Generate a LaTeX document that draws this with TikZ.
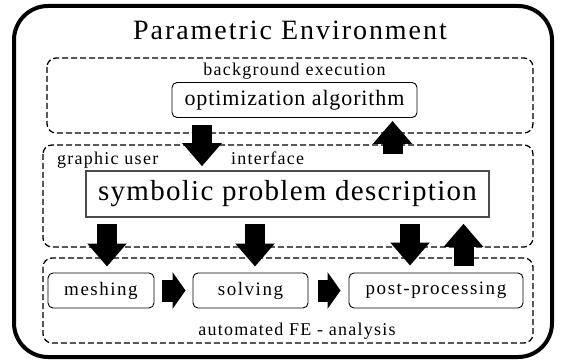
\documentclass[tikz,border=0pt]{standalone}
\usepackage{fontspec}
\setmainfont{Liberation Serif}
\usetikzlibrary{arrows.meta}

\begin{document}
\begin{tikzpicture}[x=1pt,y=-1pt,
  stage/.style={draw,rounded corners=5pt,line width=0.9pt,minimum height=35pt,inner sep=0pt,
    font=\fontsize{19}{22}\selectfont\addfontfeature{LetterSpace=8}},
  layer/.style={draw,dash pattern=on 6pt off 3pt,line width=1.3pt,rounded corners=9pt},
  tag/.style={inner sep=0pt,font=\fontsize{18}{21}\selectfont\addfontfeature{LetterSpace=7}},
  down/.style={line width=20pt,-{Triangle[length=23pt,width=38pt]}},
  fwd/.style={line width=22pt,-{Triangle[length=13pt,width=36pt]}}]
\useasboundingbox (0,0) rectangle (564,363);
%\draw[step=10pt,gray,very thin] (0,0) grid (564,363); %background grid

\draw[line width=4pt,rounded corners=34pt] (14,6) rectangle (552,357);
\node[anchor=base,inner sep=0pt,font=\fontsize{28}{32}\selectfont\addfontfeature{LetterSpace=7}] (title) at (290,40) {Parametric Environment};

% the three layers
\draw[layer] (47,58) rectangle (533,133);
\draw[layer] (43,145) rectangle (533,247);
\draw[layer] (43,258) rectangle (533,343);

\node[tag,anchor=base] (bg) at (294.5,76) {background execution};
\node[tag,anchor=base west] (gui) at (57,165) {graphic user};
\node[tag,anchor=base west] (gui2) at (231,165) {interface};
\node[tag,anchor=base] (fe) at (297,335) {automated FE - analysis};

\node[stage,minimum width=245pt,font=\fontsize{22}{26}\selectfont\addfontfeature{LetterSpace=4}] (opt) at (294.5,100) {optimization algorithm};
\node[draw=black!70,line width=1.5pt,minimum width=403pt,minimum height=46pt,inner sep=0pt,
  font=\fontsize{29}{33}\selectfont\addfontfeature{LetterSpace=4.5}] (sym) at (287.5,194) {symbolic problem description};

\node[stage,minimum width=106pt] (mesh) at (101,290.5) {meshing};
\node[stage,minimum width=115pt] (solve) at (250.5,290.5) {solving};
\node[stage,minimum width=174pt] (post) at (436,290.5) {post-processing};

% block arrows
\draw[down,shorten <=7pt,shorten >=4pt] (opt.south -| 202,0) -- (sym.north -| 202,0);
\draw[down,shorten <=16pt,shorten >=3pt] (sym.north -| 392.5,0) -- (opt.south -| 392.5,0);
\draw[down,shorten <=6pt,shorten >=6pt] (sym.south -| 107,0) -- (mesh.north -| 107,0);
\draw[down,shorten <=6pt,shorten >=6pt] (sym.south -| 255,0) -- (solve.north -| 255,0);
\draw[down,shorten <=6pt,shorten >=7pt] (sym.south -| 410,0) -- (post.north -| 410,0);
\draw[down,shorten <=7pt,shorten >=6pt] (post.north -| 463.5,0) -- (sym.south -| 463.5,0);
\draw[fwd,shorten <=8pt,shorten >=7pt] (mesh) -- (solve);
\draw[fwd,shorten <=10pt,shorten >=8pt] (solve) -- (post);
\end{tikzpicture}
\end{document}
